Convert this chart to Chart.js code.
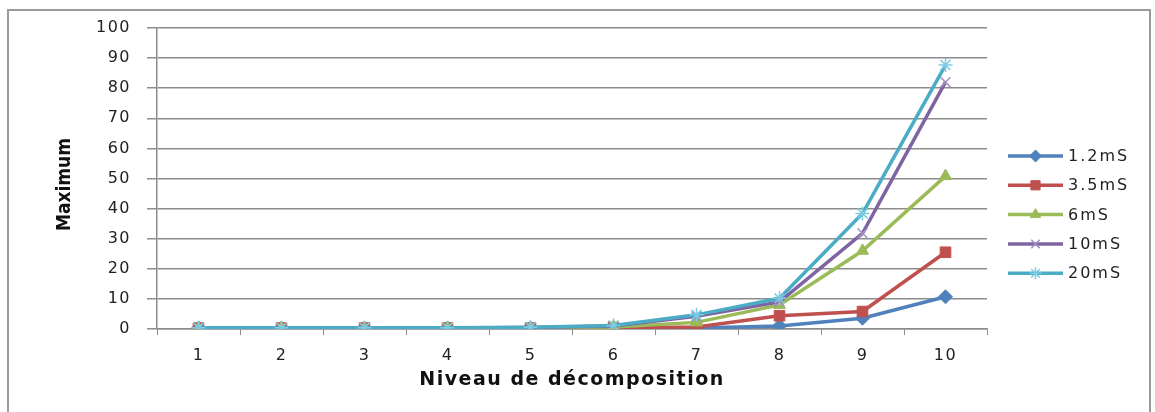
<!DOCTYPE html>
<html>
<head>
<meta charset="utf-8">
<script src="https://cdn.jsdelivr.net/npm/chart.js@4.4.1/dist/chart.umd.min.js"></script>
<style>
    html, body { margin: 0; padding: 0; background: #fff; }
    #wrap { position: absolute; left: 0; top: 0; width: 1155px; height: 412px; }
</style>
</head>
<body>
<div id="wrap"><canvas id="chart" width="1155" height="412"></canvas></div>
<script>
// Data
const levels = ["1", "2", "3", "4", "5", "6", "7", "8", "9", "10"];
const seriesNames = ["1.2mS", "3.5mS", "6mS", "10mS", "20mS"];
const s1_2 = [0.3, 0.3, 0.3, 0.3, 0.3, 0.4, 0.3, 1.0, 3.6, 10.7];
const s3_5 = [0.3, 0.3, 0.3, 0.3, 0.3, 0.5, 0.7, 4.4, 5.8, 25.5];
const s6 = [0.3, 0.3, 0.3, 0.3, 0.4, 0.7, 2.2, 8.0, 26, 50.8];
const s10 = [0.3, 0.3, 0.3, 0.3, 0.5, 1.0, 4.2, 9.0, 31.8, 82];
const s20 = [0.4, 0.4, 0.4, 0.4, 0.6, 1.2, 4.7, 10.2, 38.4, 87.7];
const yTicks = [0, 10, 20, 30, 40, 50, 60, 70, 80, 90, 100];
const yTitle = "Maximum";

const colors = ["#4f81bd", "#c0504d", "#9bbb59", "#8064a2", "#4bacc6"];
const markerColors = ["#4f81bd", "#c0504d", "#9bbb59", "#a48fc4", "#7ccbe0"];
const markers = ["rectRot", "rect", "triangle", "crossRot", "star"];
const allSeries = [s1_2, s3_5, s6, s10, s20];

const datasets = allSeries.map((data, i) => ({
    label: seriesNames[i],
    data: data,
    borderColor: colors[i],
    backgroundColor: markerColors[i],
    pointBorderColor: markerColors[i],
    pointBackgroundColor: markerColors[i],
    pointStyle: markers[i],
    pointRadius: i === 1 ? 7.5 : 7,
    pointBorderWidth: i >= 3 ? 1.5 : 1,
    borderWidth: 3.5,
    tension: 0,
    order: 5 - i
}));

// Frame, y title and legend
const framePlugin = {
    id: "frame",
    beforeDraw(chart) {
        const ctx = chart.ctx;
        ctx.save();
        ctx.strokeStyle = "#9a9a9a";
        ctx.lineWidth = 2;
        ctx.strokeRect(8, 10, 1142, 420);
        ctx.restore();
    },
    afterDraw(chart) {
        const ctx = chart.ctx;
        const area = chart.chartArea;

        // y axis title, narrow font, no extra spacing
        ctx.save();
        ctx.letterSpacing = "0px";
        ctx.translate(65, (area.top + area.bottom) / 2 + 6);
        ctx.rotate(-Math.PI / 2);
        ctx.fillStyle = "#111";
        ctx.font = "bold 19px 'Liberation Sans Narrow', 'DejaVu Sans Condensed', sans-serif";
        ctx.textAlign = "center";
        ctx.textBaseline = "middle";
        ctx.fillText(yTitle, 0, 0);
        ctx.restore();

        // legend
        const x0 = 1008, x1 = 1063, top = 156, step = 29.3;
        ctx.save();
        chart.data.datasets.forEach((ds, i) => {
            const y = top + i * step;
            ctx.strokeStyle = ds.borderColor;
            ctx.lineWidth = 3.5;
            ctx.beginPath();
            ctx.moveTo(x0, y);
            ctx.lineTo(x1, y);
            ctx.stroke();
            ctx.fillStyle = ds.pointBackgroundColor;
            ctx.strokeStyle = ds.pointBorderColor;
            ctx.lineWidth = ds.pointBorderWidth;
            Chart.helpers.drawPoint(ctx, {
                pointStyle: ds.pointStyle,
                radius: ds.pointRadius - 1,
                borderWidth: ds.pointBorderWidth,
                rotation: 0
            }, (x0 + x1) / 2, y);
            ctx.fillStyle = "#222";
            ctx.font = "16px 'DejaVu Sans'";
            ctx.letterSpacing = "2px";
            ctx.textBaseline = "middle";
            ctx.textAlign = "left";
            ctx.fillText(ds.label, 1068, y + 1);
        });
        ctx.restore();
    }
};

// wider text, like the stretched original
const spacingPlugin = {
    id: "spacing",
    beforeInit(chart) { chart.ctx.letterSpacing = "1.5px"; },
    beforeDraw(chart) { chart.ctx.letterSpacing = "1.5px"; }
};

new Chart(document.getElementById("chart"), {
    type: "line",
    data: { labels: levels, datasets: datasets },
    options: {
        responsive: false,
        animation: false,
        layout: { padding: { left: 0, right: 168, top: 28, bottom: 0 } },
        plugins: {
            legend: { display: false },
            tooltip: { enabled: false }
        },
        scales: {
            x: {
                offset: true,
                grid: {
                    offset: true,
                    drawOnChartArea: false,
                    color: "#8c8c8c",
                    tickLength: 6
                },
                border: { color: "#8c8c8c", width: 1.5 },
                ticks: {
                    color: "#222",
                    font: { family: "DejaVu Sans", size: 16 },
                    padding: 11,
                    maxRotation: 0
                },
                title: {
                    display: true,
                    text: "Niveau de décomposition",
                    color: "#111",
                    font: { family: "DejaVu Sans", size: 19, weight: "bold" },
                    padding: { top: 0, bottom: 21 }
                },
                afterFit(scale) { scale.height = 83; }
            },
            y: {
                min: 0,
                max: 100,
                afterBuildTicks(scale) {
                    scale.ticks = yTicks.map(v => ({ value: v }));
                },
                grid: {
                    color: "#8c8c8c",
                    lineWidth: 1.5,
                    tickLength: 10
                },
                border: { color: "#8c8c8c", width: 1.5 },
                ticks: {
                    color: "#222",
                    font: { family: "DejaVu Sans", size: 16 },
                    padding: 16
                },
                title: { display: false },
                afterFit(scale) { scale.width = 157; }
            }
        }
    },
    plugins: [spacingPlugin, framePlugin]
});
</script>
</body>
</html>
